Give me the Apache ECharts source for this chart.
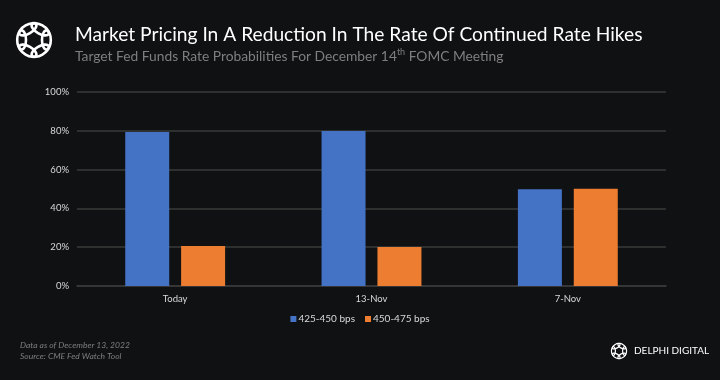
<!DOCTYPE html>
<html><head><meta charset="utf-8">
<script src="https://cdn.jsdelivr.net/npm/echarts@6/dist/echarts.min.js"></script>
<style>html,body{margin:0;padding:0;background:#0f1113}#c{width:720px;height:380px}</style>
</head><body><div id="c"></div>
<script>
const categories = ['Today', '13-Nov', '7-Nov'];
const seriesNames = ['425-450 bps', '450-475 bps'];
const lowRange = [79.4, 79.9, 49.9];
const highRange = [20.6, 20.1, 50.1];
const titleText = 'Market Pricing In A Reduction In The Rate Of Continued Rate Hikes';
const footNotes = ['Data as of December 13, 2022', 'Source: CME Fed Watch Tool'];

const font = 'Lato, "Open Sans", sans-serif';
function logo(cx, cy, r, w) {
  const kids = [];
  for (let i = 0; i < 6; i++) {
    const a = i * Math.PI / 3;
    kids.push({
      type: 'ellipse',
      x: cx + Math.cos(a) * r * 0.62, y: cy + Math.sin(a) * r * 0.62,
      rotation: -(a + Math.PI / 2),
      shape: { cx: 0, cy: 0, rx: r * 0.48, ry: r * 0.22 },
      style: { fill: 'none', stroke: '#fff', lineWidth: w }
    });
  }
  return { type: 'group', children: kids };
}
const chart = echarts.init(document.getElementById('c'));
chart.setOption({
  backgroundColor: '#0f1113',
  animation: false,
  grid: { left: 77, right: 54, top: 92, bottom: 94 },
  legend: {
    bottom: 51, left: 'center', itemWidth: 6, itemHeight: 6, itemGap: 10,
    icon: 'rect',
    textStyle: { color: '#d9d9d9', fontSize: 10, fontFamily: font, padding: [0, 0, 0, -3] },
    data: seriesNames
  },
  xAxis: {
    type: 'category', data: categories,
    axisLine: { lineStyle: { color: '#3a3a3a', width: 1.5 } },
    axisTick: { show: false },
    axisLabel: { color: '#d9d9d9', fontSize: 9.5, fontFamily: font, margin: 8 }
  },
  yAxis: {
    type: 'value', min: 0, max: 100, interval: 20,
    axisLabel: { formatter: '{value}%', color: '#d9d9d9', fontSize: 9.5, fontFamily: font, margin: 8 },
    splitLine: { lineStyle: { color: '#3a3a3a', width: 1.5 } }
  },
  series: [
    { name: seriesNames[0], type: 'bar', data: lowRange, barWidth: 44, barGap: '27%', itemStyle: { color: '#4472c4' } },
    { name: seriesNames[1], type: 'bar', data: highRange, barWidth: 44, itemStyle: { color: '#ed7d31' } }
  ],
  graphic: [
    logo(34, 40, 20, 2.6),
    { type: 'text', left: 75, top: 25, style: { text: titleText, fill: '#ffffff', font: '19.2px ' + font } },
    { type: 'text', left: 75, top: 48, style: { rich: {
        a: { fill: '#7f7f7f', font: '13.8px ' + font },
        s: { fill: '#7f7f7f', font: '9px ' + font, verticalAlign: 'top', padding: [0, 0, 8, 0] } },
        text: '{a|Target Fed Funds Rate Probabilities For December 14}{s|th}{a| FOMC Meeting}' } },
    { type: 'text', left: 20, top: 341, style: { text: footNotes[0], fill: '#7f7f7f', font: 'italic 8.5px ' + font } },
    { type: 'text', left: 20, top: 352, style: { text: footNotes[1], fill: '#7f7f7f', font: 'italic 8.5px ' + font } },
    logo(619, 351, 9, 1.2),
    { type: 'text', left: 634, top: 346, style: { text: 'DELPHI DIGITAL', fill: '#ffffff', font: '10px ' + font } }
  ]
});
</script></body></html>
